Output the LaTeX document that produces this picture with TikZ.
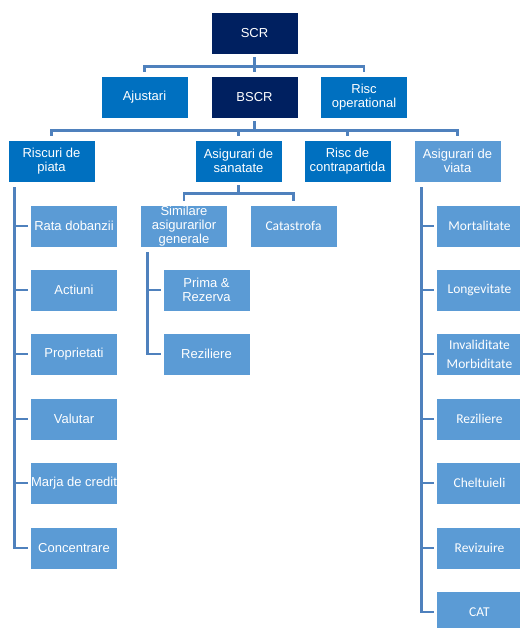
\documentclass[tikz,border=0pt]{standalone}
\usepackage{fontspec}
\setmainfont{Liberation Sans}
\newfontfamily\calfont{Carlito}
\usepackage{xcolor}
\definecolor{navy}{HTML}{002060}
\definecolor{midblue}{HTML}{0070C0}
\definecolor{lightblue}{HTML}{5B9BD5}
\definecolor{linkblue}{RGB}{79,129,189}

\begin{document}
\begin{tikzpicture}[
      x=1pt, y=-1pt,
      every node/.style={rectangle, minimum width=87pt, minimum height=42pt, inner sep=0pt,
        align=center, text=white, draw=white, line width=0.6pt,
        font=\fontsize{13}{13.5}\selectfont},
      top/.style={fill=navy},
      mid/.style={fill=midblue},
      leaf/.style={fill=lightblue},
      cal/.style={font=\calfont\fontsize{13.5}{19}\selectfont},
      link/.style={draw=linkblue, line width=2.7pt, shorten <=3pt, shorten >=4pt},
      tick/.style={draw=linkblue, line width=2.7pt, shorten <=5pt, shorten >=2pt}
    ]
    \useasboundingbox (0,0) rectangle (519,628);
    % level 1 and 2
    \node[top] (scr) at (254.5,33) {SCR};
    \node[mid] (ajust) at (144.5,97) {Ajustari};
    \node[top] (bscr) at (254.5,97) {BSCR};
    \node[mid] (oper) at (364,97) {Risc\\operational};
    % level 3
    \node[mid] (piata) at (51.5,161) {Riscuri de\\piata};
    \node[mid] (sanat) at (238.5,161) {Asigurari de\\sanatate};
    \node[mid] (contra) at (347.5,161) {Risc de\\contrapartida};
    \node[leaf] (viata) at (457.5,161) {Asigurari de\\viata};
    % riscuri de piata
    \node[leaf] (rata) at (74,226) {Rata dobanzii};
    \node[leaf] (actiuni) at (74,290) {Actiuni};
    \node[leaf] (propr) at (74,354) {Proprietati};
    \node[leaf] (valutar) at (74,419) {Valutar};
    \node[leaf] (marja) at (74,483) {Marja de credit};
    \node[leaf] (concen) at (74,548) {Concentrare};
    % asigurari de sanatate
    \node[leaf, font=\fontsize{13}{13.7}\selectfont] (simil) at (184,226) {Similare\\asigurarilor\\generale};
    \node[leaf, cal] (catas) at (293.5,226) {Catastrofa};
    \node[leaf] (prima) at (206.5,290) {Prima \&\\Rezerva};
    \node[leaf] (rezil) at (206.5,354) {Reziliere};
    % asigurari de viata
    \node[leaf, cal] (mort) at (479.5,226) {Mortalitate};
    \node[leaf, cal] (longev) at (479.5,290) {Longevitate};
    \node[leaf, cal] (invalid) at (479.5,354) {Invaliditate\\Morbiditate};
    \node[leaf, cal] (vrezil) at (479.5,419) {Reziliere};
    \node[leaf, cal] (chelt) at (479.5,483) {Cheltuieli};
    \node[leaf, cal] (reviz) at (479.5,548) {Revizuire};
    \node[leaf, cal] (cat) at (479.5,612) {CAT};

    % connectors
    \foreach \c in {ajust,bscr,oper}
      \draw[link] (scr.south) -- ++(0,12) -| (\c.north);
    \foreach \c in {piata,sanat,contra,viata}
      \draw[link] (bscr.south) -- ++(0,12) -| (\c.north);
    \foreach \c in {simil,catas}
      \draw[link] (sanat.south) -- ++(0,11) -| (\c.north);
    \foreach \c in {rata,actiuni,propr,valutar,marja,concen}
      \draw[tick] ([xshift=7pt]piata.south west) |- (\c.west);
    \foreach \c in {prima,rezil}
      \draw[tick] ([xshift=7pt]simil.south west) |- (\c.west);
    \foreach \c in {mort,longev,invalid,vrezil,chelt,reviz,cat}
      \draw[tick] ([xshift=8pt]viata.south west) |- (\c.west);
\end{tikzpicture}
\end{document}
